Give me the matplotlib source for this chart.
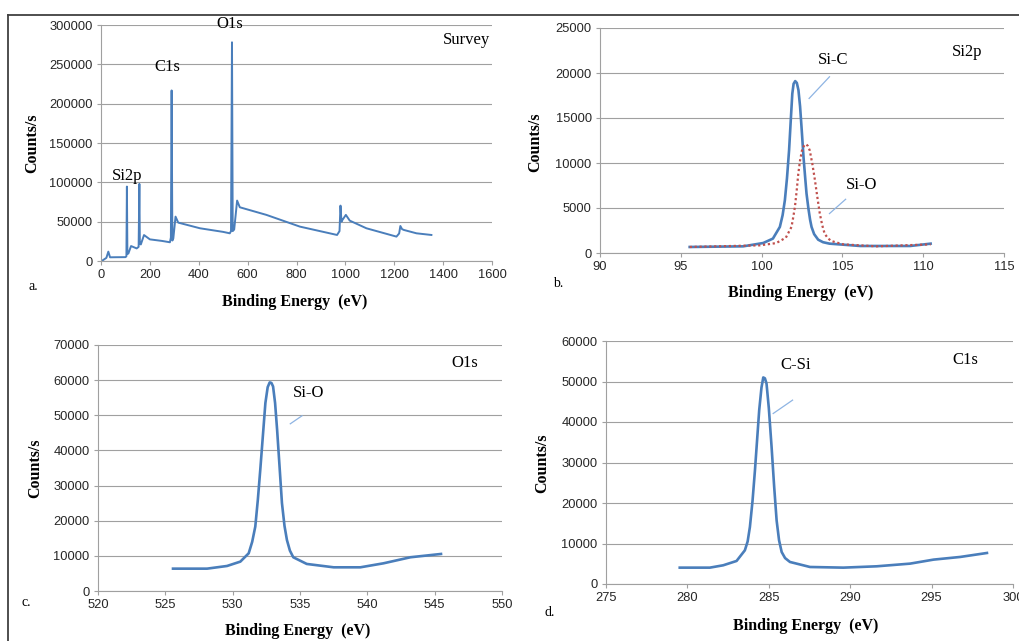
import matplotlib
matplotlib.use("Agg")
import matplotlib.pyplot as plt
from matplotlib.lines import Line2D
import numpy as np

W, H = 1019, 641

# ── Survey spectrum (a) ─────────────────────────────────────────────
survey_x = [3, 22, 30, 37, 60, 100, 104, 106, 108, 112, 123, 146, 154, 157, 159, 163,
            176, 200, 250, 282, 286, 289, 292, 296, 305, 316, 405, 500, 527, 532, 536,
            539, 545, 557, 568, 677, 814, 966, 976, 980, 984, 988, 1002, 1018, 1086,
            1209, 1220, 1225, 1232, 1239, 1291, 1352]
survey_y = [0, 4000, 11900, 4700, 4800, 4900, 6000, 94600, 9000, 9500, 19000, 16000,
            18000, 98000, 22000, 21000, 33000, 27500, 25500, 23800, 30000, 216800,
            26000, 28800, 56400, 48800, 41600, 37000, 35200, 38000, 278000, 38000,
            40000, 76800, 68300, 58600, 43700, 33100, 38000, 70400, 50000, 52200,
            58600, 51300, 41600, 31000, 35000, 44500, 40500, 39500, 35200, 33100]

# ── Si2p high resolution (b) ────────────────────────────────────────
sic_x = [95.55, 98.86, 100.1, 100.7, 101.13, 101.3, 101.44, 101.57, 101.7, 101.8,
         101.9, 101.98, 102.08, 102.18, 102.28, 102.38, 102.47, 102.6, 102.7, 102.78,
         102.9, 103.0, 103.09, 103.25, 103.5, 103.8, 104.2, 106.1, 109.2, 110.46]
sic_y = [670, 740, 1110, 1600, 2900, 4200, 5860, 8300, 11400, 14600,
         17700, 18800, 19100, 18900, 18100, 16300, 14000, 10500, 8300, 6600,
         4900, 3700, 2900, 2100, 1480, 1200, 1040, 780, 780, 1040]
sio_x = [95.55, 99.9, 100.9, 101.5, 101.85, 101.95, 102.06, 102.17, 102.27, 102.38,
         102.5, 102.62, 102.74, 102.86, 102.98, 103.14, 103.3, 103.45, 103.6, 103.75,
         103.9, 104.1, 104.3, 105.05, 107.1, 110.46]
sio_y = [670, 850, 1100, 1700, 2900, 3900, 5100, 6900, 8800, 10300,
         11400, 11900, 12100, 11900, 11400, 9900, 8100, 6200, 4400, 3100,
         2150, 1650, 1340, 960, 740, 960]

# ── O1s high resolution (c) ─────────────────────────────────────────
o1s_x = [525.57, 528.1, 529.58, 530.57, 531.19, 531.45, 531.68, 531.87, 532.05, 532.25,
         532.43, 532.6, 532.75, 532.88, 533.0, 533.15, 533.3, 533.48, 533.66, 533.85,
         534.03, 534.25, 534.5, 535.5, 537.5, 539.48, 541.2, 543.2, 545.47]
o1s_y = [6360, 6360, 7120, 8360, 10730, 14000, 18330, 26000, 34500, 44500,
         53500, 58000, 59360, 59200, 58200, 53500, 45900, 35500, 25000, 18500,
         14500, 11500, 9600, 7700, 6740, 6740, 7880, 9600, 10540]

# ── C1s high resolution (d) ─────────────────────────────────────────
c1s_x = [279.53, 281.38, 282.2, 283.02, 283.53, 283.7, 283.84, 284.0, 284.15, 284.28,
         284.41, 284.55, 284.66, 284.76, 284.86, 285.0, 285.17, 285.33, 285.48, 285.63,
         285.79, 286.0, 286.3, 287.53, 289.58, 291.63, 293.68, 295.12, 296.76, 298.4]
c1s_y = [4040, 4040, 4620, 5690, 8320, 10500, 14100, 20500, 28100, 35500,
         42900, 48500, 51000, 50800, 49500, 43500, 33900, 24000, 15700, 10800,
         7900, 6400, 5440, 4200, 4040, 4370, 5030, 6020, 6680, 7660]

BLUE = "#4A7EBB"
RED = "#C0504D"
LEADER = "#8EB4E3"
GRID = "#A0A0A0"
SERIF = "Liberation Serif"
SANS = "Liberation Sans"

fig = plt.figure(figsize=(W / 100, H / 100), dpi=100)
fig.patch.set_facecolor("white")


def px_axes(left, top, right, bottom):
    return fig.add_axes([left / W, 1 - bottom / H, (right - left) / W, (bottom - top) / H])


def style(ax, xlim, xstep, ylim, ystep):
    ax.set_xlim(*xlim)
    ax.set_ylim(*ylim)
    ax.set_xticks(np.arange(xlim[0], xlim[1] + xstep / 2, xstep))
    ax.set_yticks(np.arange(ylim[0], ylim[1] + ystep / 2, ystep))
    ax.grid(axis="y", color=GRID, linewidth=0.8)
    ax.set_axisbelow(True)
    for s in ("top", "right"):
        ax.spines[s].set_visible(False)
    for s in ("left", "bottom"):
        ax.spines[s].set_color(GRID)
        ax.spines[s].set_linewidth(0.8)
    ax.tick_params(length=3, width=0.8, color=GRID, labelsize=9.3,
                   labelcolor="#262626", pad=3)
    for lab in ax.get_xticklabels() + ax.get_yticklabels():
        lab.set_fontfamily(SANS)


def fig_text(x, y, s, **kw):
    fig.text(x / W, 1 - y / H, s, ha="center", va="center", **kw)


def axis_labels(xl, yl):
    fig_text(*xl, "Binding Energy  (eV)", family=SERIF, fontweight="bold", fontsize=11.5)
    fig_text(*yl, "Counts/s", family=SERIF, fontweight="bold", fontsize=11.5, rotation=90)


# a. survey
ax1 = px_axes(101, 25, 492, 261)
style(ax1, (0, 1600), 200, (0, 300000), 50000)
ax1.plot(survey_x, survey_y, color=BLUE, linewidth=1.4)
for s, x, y in [("O1s", 527, 301700), ("C1s", 273, 246000), ("Si2p", 108, 108600),
                ("Survey", 1495, 280500)]:
    ax1.text(x, y, s, family=SERIF, fontsize=12, ha="center", va="center", clip_on=False)
axis_labels((295, 302), (32, 143))
fig_text(33, 286, "a.", family=SERIF, fontsize=10)

# b. Si2p
ax2 = px_axes(600, 28, 1004, 253)
style(ax2, (90, 115), 5, (0, 25000), 5000)
ax2.plot(sic_x, sic_y, color=BLUE, linewidth=1.9)
ax2.plot(sio_x, sio_y, color=RED, linewidth=1.6, linestyle=(0, (1, 1.2)))
ax2.plot([104.2, 102.94], [19580, 17170], color=LEADER, linewidth=0.9)
ax2.plot([105.2, 104.2], [5970, 4380], color=LEADER, linewidth=0.9)
for s, x, y in [("Si-C", 104.4, 21400), ("Si-O", 106.2, 7530), ("Si2p", 112.7, 22370)]:
    ax2.text(x, y, s, family=SERIF, fontsize=12, ha="center", va="center")
axis_labels((801, 293), (535, 142))
fig_text(558, 284, "b.", family=SERIF, fontsize=10)

# c. O1s
ax3 = px_axes(98, 345, 502, 591)
style(ax3, (520, 550), 5, (0, 70000), 10000)
ax3.plot(o1s_x, o1s_y, color=BLUE, linewidth=1.9)
ax3.plot([535.15, 534.28], [49860, 47580], color=LEADER, linewidth=0.9)
for s, x, y in [("Si-O", 535.6, 56300), ("O1s", 547.2, 64870)]:
    ax3.text(x, y, s, family=SERIF, fontsize=12, ha="center", va="center")
axis_labels((298, 631), (35, 468))
fig_text(26, 603, "c.", family=SERIF, fontsize=10)

# d. C1s
ax4 = px_axes(606, 341, 1013, 584)
style(ax4, (275, 300), 5, (0, 60000), 10000)
ax4.plot(c1s_x, c1s_y, color=BLUE, linewidth=1.9)
ax4.plot([286.46, 285.27], [45400, 42100], color=LEADER, linewidth=0.9)
for s, x, y in [("C-Si", 286.65, 54070), ("C1s", 297.1, 55300)]:
    ax4.text(x, y, s, family=SERIF, fontsize=12, ha="center", va="center")
axis_labels((806, 626), (542, 463))
fig_text(550, 613, "d.", family=SERIF, fontsize=10)

# outer frame (top and left edges only)
fig.add_artist(Line2D([8 / W, 8 / W], [0, 1 - 15 / H], color="#404040", linewidth=1.3))
fig.add_artist(Line2D([8 / W, 1], [1 - 15 / H, 1 - 15 / H], color="#404040", linewidth=1.3))

fig.savefig("out.png", dpi=100, facecolor="white")
